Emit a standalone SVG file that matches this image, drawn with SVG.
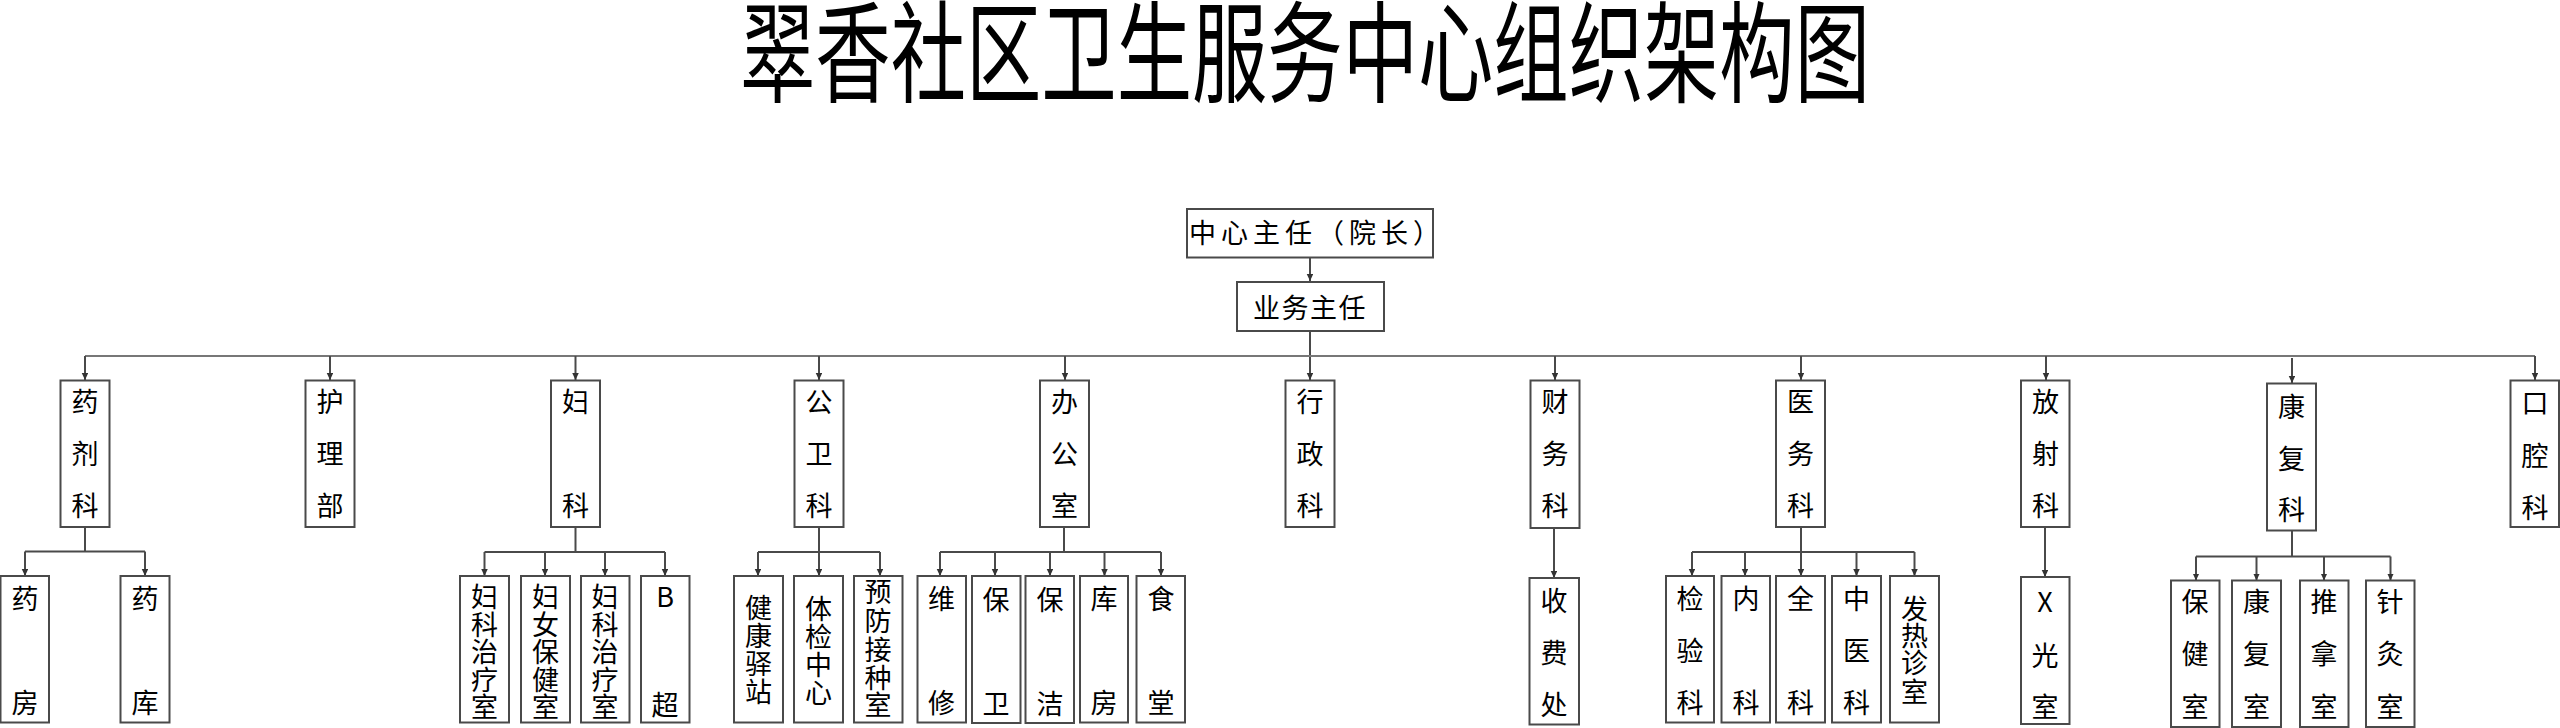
<svg xmlns="http://www.w3.org/2000/svg" width="2560" height="728" viewBox="0 0 2560 728">
<style>
.box{fill:#fff;stroke:#4a4a4a;stroke-width:2}
.t{font-family:"Noto Sans CJK SC","Noto Sans",sans-serif;font-size:27px;fill:#000;text-anchor:middle}
.c{fill:none;stroke:#4a4a4a;stroke-width:2}
.bus{fill:none;stroke:#777;stroke-width:2}
.title{font-family:"Noto Sans CJK SC","Noto Sans",sans-serif;font-size:110px;fill:#000;text-anchor:middle}
</style>
<defs>
<marker id="arr" markerUnits="userSpaceOnUse" markerWidth="7" markerHeight="7" refX="7" refY="3.25" orient="auto">
<path d="M0,0 L7,3.25 L0,6.5 z" fill="#333"/>
</marker>
</defs>
<rect width="2560" height="728" fill="#fff"/>
<text class="title" transform="translate(1305,94) scale(0.685,1)">翠香社区卫生服务中心组织架构图</text>

<g id="connectors">
<path class="c" d="M1310,258 V281" marker-end="url(#arr)"/>
<path class="c" d="M1310,331 V380" marker-end="url(#arr)"/>
<path class="bus" d="M85,356 H2535"/>
<path class="c" d="M85,356 V380" marker-end="url(#arr)"/>
<path class="c" d="M330,356 V380" marker-end="url(#arr)"/>
<path class="c" d="M575.5,356 V380" marker-end="url(#arr)"/>
<path class="c" d="M819,356 V380" marker-end="url(#arr)"/>
<path class="c" d="M1065,356 V380" marker-end="url(#arr)"/>
<path class="c" d="M1555,356 V380" marker-end="url(#arr)"/>
<path class="c" d="M1801,356 V380" marker-end="url(#arr)"/>
<path class="c" d="M2046,356 V380" marker-end="url(#arr)"/>
<path class="c" d="M2292,358 V383" marker-end="url(#arr)"/>
<path class="c" d="M2535,356 V380" marker-end="url(#arr)"/>
<path class="c" d="M85,527 V551.5 M25,551.5 H145"/>
<path class="c" d="M25,551.5 V576" marker-end="url(#arr)"/>
<path class="c" d="M145,551.5 V576" marker-end="url(#arr)"/>
<path class="c" d="M575.5,527 V552 M484.5,552 H665"/>
<path class="c" d="M484.5,552 V576" marker-end="url(#arr)"/>
<path class="c" d="M545,552 V576" marker-end="url(#arr)"/>
<path class="c" d="M605,552 V576" marker-end="url(#arr)"/>
<path class="c" d="M665,552 V576" marker-end="url(#arr)"/>
<path class="c" d="M758,552 H880"/>
<path class="c" d="M819,527 V576" marker-end="url(#arr)"/>
<path class="c" d="M758,552 V576" marker-end="url(#arr)"/>
<path class="c" d="M880,552 V576" marker-end="url(#arr)"/>
<path class="c" d="M1064,527 V552 M940,552 H1161"/>
<path class="c" d="M940,552 V576" marker-end="url(#arr)"/>
<path class="c" d="M995,552 V576" marker-end="url(#arr)"/>
<path class="c" d="M1050,552 V576" marker-end="url(#arr)"/>
<path class="c" d="M1104.5,552 V576" marker-end="url(#arr)"/>
<path class="c" d="M1161,552 V576" marker-end="url(#arr)"/>
<path class="c" d="M1554,528 V578" marker-end="url(#arr)"/>
<path class="c" d="M1692,552 H1914.5"/>
<path class="c" d="M1801,527 V576" marker-end="url(#arr)"/>
<path class="c" d="M1692,552 V576" marker-end="url(#arr)"/>
<path class="c" d="M1745,552 V576" marker-end="url(#arr)"/>
<path class="c" d="M1856.5,552 V576" marker-end="url(#arr)"/>
<path class="c" d="M1914.5,552 V576" marker-end="url(#arr)"/>
<path class="c" d="M2045,527 V577" marker-end="url(#arr)"/>
<path class="c" d="M2292,530.5 V556.5 M2196,556.5 H2390.5"/>
<path class="c" d="M2196,556.5 V580.5" marker-end="url(#arr)"/>
<path class="c" d="M2256.5,556.5 V580.5" marker-end="url(#arr)"/>
<path class="c" d="M2324,556.5 V580.5" marker-end="url(#arr)"/>
<path class="c" d="M2390.5,556.5 V580.5" marker-end="url(#arr)"/>
</g>

<g id="n-director">
<rect class="box" x="1187" y="209" width="246" height="48.5"/>
<text class="t" x="1189" y="243" style="text-anchor:start;letter-spacing:5px">中心主任（院长）</text>
</g>
<g id="n-business">
<rect class="box" x="1237" y="282" width="147" height="49"/>
<text class="t" x="1253" y="317.5" style="text-anchor:start;letter-spacing:1.5px">业务主任</text>
</g>

<g id="n-yaoji">
<rect class="box" x="60.5" y="380.5" width="49" height="146.5"/>
<text class="t"><tspan x="85" y="412">药</tspan><tspan x="85" y="464">剂</tspan><tspan x="85" y="516">科</tspan></text>
</g>
<g id="n-huli">
<rect class="box" x="305.5" y="380.5" width="49" height="146.5"/>
<text class="t"><tspan x="330" y="412">护</tspan><tspan x="330" y="464">理</tspan><tspan x="330" y="516">部</tspan></text>
</g>
<g id="n-fuke">
<rect class="box" x="551" y="380.5" width="49" height="146.5"/>
<text class="t"><tspan x="575.5" y="412">妇</tspan><tspan x="575.5" y="516">科</tspan></text>
</g>
<g id="n-gongwei">
<rect class="box" x="794.5" y="380.5" width="49" height="146.5"/>
<text class="t"><tspan x="819" y="412">公</tspan><tspan x="819" y="464">卫</tspan><tspan x="819" y="516">科</tspan></text>
</g>
<g id="n-bangong">
<rect class="box" x="1040" y="380.5" width="49" height="146.5"/>
<text class="t"><tspan x="1064.5" y="412">办</tspan><tspan x="1064.5" y="464">公</tspan><tspan x="1064.5" y="516">室</tspan></text>
</g>
<g id="n-xingzheng">
<rect class="box" x="1285.5" y="380.5" width="49" height="146.5"/>
<text class="t"><tspan x="1310" y="412">行</tspan><tspan x="1310" y="464">政</tspan><tspan x="1310" y="516">科</tspan></text>
</g>
<g id="n-caiwu">
<rect class="box" x="1530.5" y="380.5" width="49" height="147.5"/>
<text class="t"><tspan x="1555" y="412">财</tspan><tspan x="1555" y="464">务</tspan><tspan x="1555" y="516">科</tspan></text>
</g>
<g id="n-yiwu">
<rect class="box" x="1776" y="380.5" width="49" height="146.5"/>
<text class="t"><tspan x="1800.5" y="412">医</tspan><tspan x="1800.5" y="464">务</tspan><tspan x="1800.5" y="516">科</tspan></text>
</g>
<g id="n-fangshe">
<rect class="box" x="2021" y="380.5" width="48.5" height="146.5"/>
<text class="t"><tspan x="2045.5" y="412">放</tspan><tspan x="2045.5" y="464">射</tspan><tspan x="2045.5" y="516">科</tspan></text>
</g>
<g id="n-kangfu">
<rect class="box" x="2267" y="383.5" width="49" height="147"/>
<text class="t"><tspan x="2291.5" y="417">康</tspan><tspan x="2291.5" y="469">复</tspan><tspan x="2291.5" y="520">科</tspan></text>
</g>
<g id="n-kouqiang">
<rect class="box" x="2510.5" y="380.5" width="48.5" height="146.5"/>
<text class="t"><tspan x="2535" y="413">口</tspan><tspan x="2535" y="466">腔</tspan><tspan x="2535" y="518">科</tspan></text>
</g>

<g id="n-yaofang">
<rect class="box" x="0.5" y="576" width="48.5" height="146.5"/>
<text class="t"><tspan x="25" y="609">药</tspan><tspan x="25" y="713">房</tspan></text>
</g>
<g id="n-yaoku">
<rect class="box" x="120.5" y="576" width="49" height="146.5"/>
<text class="t"><tspan x="145" y="609">药</tspan><tspan x="145" y="713">库</tspan></text>
</g>
<g id="n-fkzl1">
<rect class="box" x="460" y="576" width="49" height="146.5"/>
<text class="t"><tspan x="484.5" y="607">妇</tspan><tspan x="484.5" y="634.5">科</tspan><tspan x="484.5" y="662">治</tspan><tspan x="484.5" y="689.5">疗</tspan><tspan x="484.5" y="717">室</tspan></text>
</g>
<g id="n-fnbj">
<rect class="box" x="521" y="576" width="49" height="146.5"/>
<text class="t"><tspan x="545.5" y="607">妇</tspan><tspan x="545.5" y="634.5">女</tspan><tspan x="545.5" y="662">保</tspan><tspan x="545.5" y="689.5">健</tspan><tspan x="545.5" y="717">室</tspan></text>
</g>
<g id="n-fkzl2">
<rect class="box" x="581" y="576" width="48.5" height="146.5"/>
<text class="t"><tspan x="605" y="607">妇</tspan><tspan x="605" y="634.5">科</tspan><tspan x="605" y="662">治</tspan><tspan x="605" y="689.5">疗</tspan><tspan x="605" y="717">室</tspan></text>
</g>
<g id="n-bchao">
<rect class="box" x="641" y="576" width="48.5" height="146.5"/>
<text class="t"><tspan x="665" y="607">B</tspan><tspan x="665" y="715">超</tspan></text>
</g>
<g id="n-jkyz">
<rect class="box" x="734" y="576" width="49" height="146.5"/>
<text class="t"><tspan x="758.5" y="618">健</tspan><tspan x="758.5" y="646">康</tspan><tspan x="758.5" y="674">驿</tspan><tspan x="758.5" y="702">站</tspan></text>
</g>
<g id="n-tjzx">
<rect class="box" x="794" y="576" width="49" height="146.5"/>
<text class="t"><tspan x="818.5" y="619">体</tspan><tspan x="818.5" y="647">检</tspan><tspan x="818.5" y="675">中</tspan><tspan x="818.5" y="703">心</tspan></text>
</g>
<g id="n-yfjz">
<rect class="box" x="854" y="576" width="48.5" height="146.5"/>
<text class="t"><tspan x="878" y="602">预</tspan><tspan x="878" y="631">防</tspan><tspan x="878" y="660">接</tspan><tspan x="878" y="688">种</tspan><tspan x="878" y="715">室</tspan></text>
</g>
<g id="n-weixiu">
<rect class="box" x="917.5" y="576" width="48.5" height="146.5"/>
<text class="t"><tspan x="941.5" y="609">维</tspan><tspan x="941.5" y="713">修</tspan></text>
</g>
<g id="n-baowei">
<rect class="box" x="972" y="576" width="48.5" height="147"/>
<text class="t"><tspan x="996" y="610">保</tspan><tspan x="996" y="714">卫</tspan></text>
</g>
<g id="n-baojie">
<rect class="box" x="1025.5" y="576" width="48.5" height="147"/>
<text class="t"><tspan x="1050" y="610">保</tspan><tspan x="1050" y="714">洁</tspan></text>
</g>
<g id="n-kufang">
<rect class="box" x="1080" y="576" width="48" height="146.5"/>
<text class="t"><tspan x="1104" y="609">库</tspan><tspan x="1104" y="713">房</tspan></text>
</g>
<g id="n-shitang">
<rect class="box" x="1136.5" y="576" width="48.5" height="146.5"/>
<text class="t"><tspan x="1161" y="609">食</tspan><tspan x="1161" y="713">堂</tspan></text>
</g>
<g id="n-shoufei">
<rect class="box" x="1529.5" y="578" width="49.5" height="146.5"/>
<text class="t"><tspan x="1554" y="611">收</tspan><tspan x="1554" y="663">费</tspan><tspan x="1554" y="715">处</tspan></text>
</g>
<g id="n-jianyan">
<rect class="box" x="1666" y="576" width="48" height="146.5"/>
<text class="t"><tspan x="1690" y="609">检</tspan><tspan x="1690" y="661">验</tspan><tspan x="1690" y="713">科</tspan></text>
</g>
<g id="n-neike">
<rect class="box" x="1721.5" y="576" width="48.5" height="146.5"/>
<text class="t"><tspan x="1746" y="609">内</tspan><tspan x="1746" y="713">科</tspan></text>
</g>
<g id="n-quanke">
<rect class="box" x="1776" y="576" width="49" height="146.5"/>
<text class="t"><tspan x="1800.5" y="609">全</tspan><tspan x="1800.5" y="713">科</tspan></text>
</g>
<g id="n-zhongyi">
<rect class="box" x="1832" y="576" width="49" height="146.5"/>
<text class="t"><tspan x="1856.5" y="609">中</tspan><tspan x="1856.5" y="661">医</tspan><tspan x="1856.5" y="713">科</tspan></text>
</g>
<g id="n-fare">
<rect class="box" x="1890" y="576" width="49" height="146.5"/>
<text class="t"><tspan x="1914.5" y="619">发</tspan><tspan x="1914.5" y="646">热</tspan><tspan x="1914.5" y="673">诊</tspan><tspan x="1914.5" y="702">室</tspan></text>
</g>
<g id="n-xguang">
<rect class="box" x="2021" y="577" width="48.5" height="147"/>
<text class="t"><tspan x="2045" y="612">X</tspan><tspan x="2045" y="666">光</tspan><tspan x="2045" y="717">室</tspan></text>
</g>
<g id="n-baojian">
<rect class="box" x="2171" y="580.5" width="48.5" height="146.5"/>
<text class="t"><tspan x="2195" y="612">保</tspan><tspan x="2195" y="664">健</tspan><tspan x="2195" y="717">室</tspan></text>
</g>
<g id="n-kangfushi">
<rect class="box" x="2232" y="580.5" width="49" height="146.5"/>
<text class="t"><tspan x="2256.5" y="612">康</tspan><tspan x="2256.5" y="664">复</tspan><tspan x="2256.5" y="717">室</tspan></text>
</g>
<g id="n-tuina">
<rect class="box" x="2300" y="580.5" width="48.5" height="146.5"/>
<text class="t"><tspan x="2324" y="612">推</tspan><tspan x="2324" y="664">拿</tspan><tspan x="2324" y="717">室</tspan></text>
</g>
<g id="n-zhenjiu">
<rect class="box" x="2366" y="580.5" width="48.5" height="146.5"/>
<text class="t"><tspan x="2390" y="612">针</tspan><tspan x="2390" y="664">灸</tspan><tspan x="2390" y="717">室</tspan></text>
</g>
</svg>
